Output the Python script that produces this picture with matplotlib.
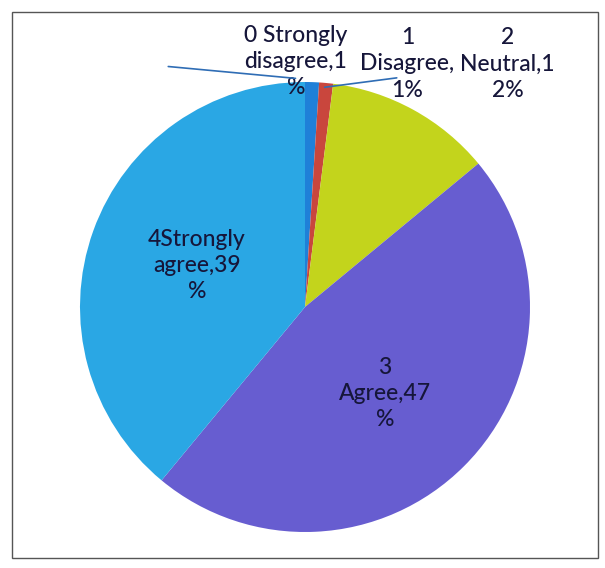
import matplotlib
matplotlib.use("Agg")
import matplotlib.pyplot as plt
from matplotlib.patches import Rectangle

categories = ["0 Strongly disagree", "1 Disagree", "2 Neutral", "3 Agree", "4Strongly agree"]
values = [1, 1, 12, 47, 39]
label_texts = ["0 Strongly\ndisagree,1\n%", "1\nDisagree,\n1%", "2\nNeutral,1\n2%",
               "3\nAgree,47\n%", "4Strongly\nagree,39\n%"]
colors = ["#1f80d8", "#c9463d", "#c3d41c", "#675dd0", "#2aa7e4"]

label_pos = [(-0.04, 1.09), (0.455, 1.08), (0.90, 1.08), (0.356, -0.385), (-0.48, 0.185)]

plt.rcParams['font.family'] = ['Lato', 'DejaVu Sans']

fig = plt.figure(figsize=(6.05, 5.68), dpi=100)
fig.patch.set_facecolor("white")
ax = fig.add_axes([0, 0, 1, 1])

ax.pie(values, colors=colors, startangle=90, counterclock=False, radius=1.0,
       center=(0, 0), wedgeprops=dict(linewidth=0), frame=True)
ax.set_xlim(-305 / 225, 300 / 225)
ax.set_ylim(-261 / 225, 307 / 225)
ax.set_aspect("equal")
ax.axis("off")

for txt, (x, y) in zip(label_texts, label_pos):
    ax.text(x, y, txt, ha="center", va="center", fontsize=16.5, color="#16163a",
            linespacing=1.3, fontweight="medium")

# leader lines for the two small slices
ax.annotate("", xy=(-0.03, 1.015), xytext=(-0.62, 1.07),
            arrowprops=dict(arrowstyle="-", color="#2f6db5", lw=1.2))
ax.annotate("", xy=(0.075, 0.975), xytext=(0.42, 1.02),
            arrowprops=dict(arrowstyle="-", color="#2f6db5", lw=1.2))

fig.patches.append(Rectangle((12 / 605, 10 / 568), 586 / 605, 546 / 568,
                             transform=fig.transFigure, fill=False,
                             edgecolor="#555555", linewidth=1.0))

fig.savefig("out.png", dpi=100, facecolor="white")
